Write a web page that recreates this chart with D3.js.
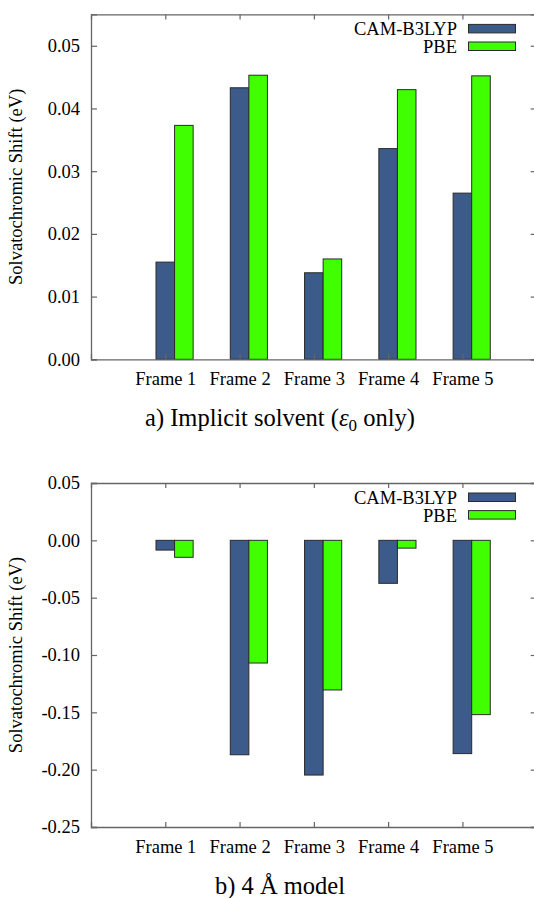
<!DOCTYPE html>
<meta charset="utf-8">
<html>
<style>
  body { margin: 0; background: #fff; }
  text { font-family: "Liberation Serif", "Times New Roman", serif; fill: #000; }
</style>
<body>
<script src="https://cdn.jsdelivr.net/npm/d3@7"></script>
<script>
// category labels and the two methods
var frames = ["Frame 1", "Frame 2", "Frame 3", "Frame 4", "Frame 5"];
var methods = ["CAM-B3LYP", "PBE"];
var methodColors = ["#3d5b8a", "#40ff00"];

// a) implicit solvent, shifts in eV
var implicitCam = [0.0155, 0.0433, 0.0138, 0.0336, 0.0265];
var implicitPbe = [0.0373, 0.0453, 0.0160, 0.0430, 0.0452];
var implicitTicks = [0.00, 0.01, 0.02, 0.03, 0.04, 0.05];

// b) 4 A model, shifts in eV
var modelCam = [-0.0085, -0.187, -0.2047, -0.0375, -0.186];
var modelPbe = [-0.0148, -0.107, -0.1305, -0.0068, -0.152];
var modelTicks = [0.05, 0.00, -0.05, -0.10, -0.15, -0.20, -0.25];

var svg = d3.select("body").append("svg")
    .attr("width", 534)
    .attr("height", 898);

// shared x scale: one unit per frame, gnuplot style range [-1, 5]
var x = d3.scaleLinear().domain([-1, 5]).range([91, 536.7]);
var barW = x(0.25) - x(0);
var fmt = function (d) { return d3.format(".2f")(d).replace("\u2212", "-"); };

function drawPanel(top, bottom, yDomain, ticks, cam, pbe) {
  var y = d3.scaleLinear().domain(yDomain).range([bottom, top]);
  var g = svg.append("g");
  var series = [cam, pbe];

  // bars first, frame drawn over them
  series.forEach(function (vals, s) {
    g.selectAll(null)
      .data(vals)
      .enter()
      .append("rect")
      .attr("x", function (d, i) { return x(i) - barW / 2 + s * barW; })
      .attr("y", function (d) { return y(Math.max(0, d)); })
      .attr("width", barW)
      .attr("height", function (d) { return Math.abs(y(d) - y(0)); })
      .style("fill", methodColors[s])
      .style("stroke", "#2a2a2a")
      .style("stroke-width", 1);
  });

  // y ticks, mirrored on the right
  var yAx = g.append("g").attr("transform", "translate(" + x(-1) + ",0)")
    .call(d3.axisLeft(y).tickValues(ticks).tickSize(-6).tickPadding(11).tickFormat(fmt));
  var yAx2 = g.append("g").attr("transform", "translate(" + x(5) + ",0)")
    .call(d3.axisRight(y).tickValues(ticks).tickSize(-6).tickFormat(""));

  // x ticks on bottom and top
  var xAx = g.append("g").attr("transform", "translate(0," + bottom + ")")
    .call(d3.axisBottom(x).tickValues(d3.range(frames.length)).tickSize(-5).tickPadding(13)
      .tickFormat(function (i) { return frames[i]; }));
  var xAx2 = g.append("g").attr("transform", "translate(0," + top + ")")
    .call(d3.axisTop(x).tickValues(d3.range(frames.length)).tickSize(-5).tickFormat(""));

  [yAx, yAx2, xAx, xAx2].forEach(function (a) {
    a.selectAll("path").style("stroke", "#666").style("stroke-width", 1.3);
    a.selectAll("line").style("stroke", "#666").style("stroke-width", 1.2);
    a.selectAll("text").style("font-size", "18.5px").style("fill", "#000")
      .style("font-family", "\"Liberation Serif\", serif");
  });

  // y title
  g.append("text")
    .attr("transform", "translate(22," + (top + bottom) / 2 + ") rotate(-90)")
    .attr("text-anchor", "middle")
    .style("font-size", "18.5px")
    .text("Solvatochromic Shift (eV)");

  // legend in the top right corner
  methods.forEach(function (m, s) {
    var ly = top + 10 + s * 17.6;
    g.append("rect")
      .attr("x", 468.5).attr("y", ly)
      .attr("width", 47).attr("height", 8.5)
      .style("fill", methodColors[s])
      .style("stroke", "#2a2a2a")
      .style("stroke-width", 1);
    g.append("text")
      .attr("x", 457).attr("y", ly + 4.5)
      .attr("dy", "0.35em")
      .attr("text-anchor", "end")
      .style("font-size", "18.5px")
      .text(m);
  });
  return g;
}

drawPanel(14.4, 359.3, [0, 0.055], implicitTicks, implicitCam, implicitPbe);
drawPanel(483, 827, [-0.25, 0.05], modelTicks, modelCam, modelPbe);

// captions
var capA = svg.append("text")
  .attr("x", 280).attr("y", 426)
  .attr("text-anchor", "middle")
  .style("font-size", "24.5px");
capA.append("tspan").text("a) Implicit solvent (");
capA.append("tspan").style("font-style", "italic").text("\u03b5");
capA.append("tspan").attr("dy", 5).style("font-size", "17px").text("0");
capA.append("tspan").attr("dy", -5).text(" only)");

svg.append("text")
  .attr("x", 280).attr("y", 894)
  .attr("text-anchor", "middle")
  .style("font-size", "24.5px")
  .text("b) 4 \u00c5 model");
</script>
</body>
</html>
